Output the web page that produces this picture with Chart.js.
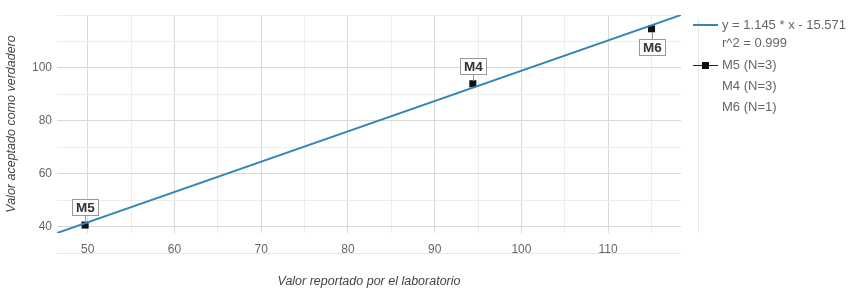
<!DOCTYPE HTML>
<html>
<head>
<script src="https://cdn.jsdelivr.net/npm/chart.js"></script>
<style>
    body { margin: 0; background: #fff; font-family: "Liberation Sans", Arial, sans-serif; }
    #wrap { position: relative; width: 866px; height: 290px; }
    #legend { position: absolute; left: 0; top: 0; font-size: 13px; color: #666; }
    .lg-row { position: absolute; left: 722px; height: 16px; line-height: 16px; white-space: nowrap; }
    .lg-line { position: absolute; left: 693px; width: 25px; height: 2px; }
    .lg-box { position: absolute; width: 7px; height: 7px; background: #111; }
</style>
</head>
<body>
<div id="wrap">
    <canvas id="myChart" width="866" height="290"></canvas>
    <div id="legend"></div>
</div>

<script type="text/javascript">
    // data
    const pointNames = ['M5', 'M4', 'M6'];
    const reportedValues = [49.7, 94.4, 115.0];
    const acceptedValues = [40.6, 94.0, 114.8];
    const labelSide = ['above', 'above', 'below'];
    const fitX = [46.46, 118.4];
    const fitY = [37.6, 120.0];
    const legendTexts = ['y = 1.145 * x - 15.571', 'r^2 = 0.999', 'M5 (N=3)', 'M4 (N=3)', 'M6 (N=1)'];
    const xTitle = 'Valor reportado por el laboratorio';
    const yTitle = 'Valor aceptado como verdadero';

    const legendRowY = [25, 43, 65, 86, 107];

    // html legend
    let legend = document.getElementById('legend');
    for (let i = 0; i < legendTexts.length; i++) {
        let row = document.createElement('div');
        row.className = 'lg-row';
        row.style.top = (legendRowY[i] - 8) + 'px';
        row.textContent = legendTexts[i];
        legend.appendChild(row);
    }
    let fitSwatch = document.createElement('div');
    fitSwatch.className = 'lg-line';
    fitSwatch.style.top = (legendRowY[0] - 1) + 'px';
    fitSwatch.style.background = '#3585b8';
    legend.appendChild(fitSwatch);
    let ptSwatch = document.createElement('div');
    ptSwatch.className = 'lg-line';
    ptSwatch.style.top = (legendRowY[2]) + 'px';
    ptSwatch.style.height = '1px';
    ptSwatch.style.background = '#222';
    legend.appendChild(ptSwatch);
    let ptBox = document.createElement('div');
    ptBox.className = 'lg-box';
    ptBox.style.left = '702px';
    ptBox.style.top = (legendRowY[2] - 3) + 'px';
    legend.appendChild(ptBox);

    const pointLabelPlugin = {
        id: 'pointLabels',
        beforeDatasetsDraw(chart) {
            const ctx = chart.ctx;
            const a = chart.chartArea;
            ctx.save();
            ctx.strokeStyle = '#e6e6e6';
            ctx.lineWidth = 1;
            ctx.beginPath();
            ctx.moveTo(a.left, a.bottom + 20.5);
            ctx.lineTo(a.right, a.bottom + 20.5);
            ctx.moveTo(a.right + 17.5, a.top + 3);
            ctx.lineTo(a.right + 17.5, a.bottom);
            ctx.stroke();
            ctx.restore();
        },
        afterDatasetsDraw(chart) {
            const ctx = chart.ctx;
            const pts = chart.getDatasetMeta(1).data;
            ctx.save();
            ctx.font = 'bold 13.5px "Liberation Sans", Arial, sans-serif';
            ctx.textAlign = 'center';
            ctx.textBaseline = 'middle';
            for (let i = 0; i < pts.length; i++) {
                const px = Math.round(pts[i].x);
                const py = Math.round(pts[i].y);
                const w = 26, h = 16;
                let top = labelSide[i] === 'above' ? py - 10 - h : py + 10;
                ctx.strokeStyle = '#999';
                ctx.lineWidth = 1;
                ctx.beginPath();
                if (labelSide[i] === 'above') {
                    ctx.moveTo(px + 0.5, py - 10);
                    ctx.lineTo(px + 0.5, py - 3);
                } else {
                    ctx.moveTo(px + 0.5, py + 10);
                    ctx.lineTo(px + 0.5, py + 3);
                }
                ctx.stroke();
                ctx.fillStyle = '#fff';
                ctx.fillRect(px - w / 2, top, w, h);
                ctx.strokeRect(px - w / 2 + 0.5, top + 0.5, w, h);
                ctx.fillStyle = '#333';
                ctx.fillText(pointNames[i], px + 0.5, top + h / 2 + 1);
            }
            ctx.restore();
        }
    };

    const fitData = fitX.map((x, i) => ({x: x, y: fitY[i]}));
    const pointData = reportedValues.map((x, i) => ({x: x, y: acceptedValues[i]}));

    const data = {
        datasets: [{
            label: legendTexts[0],
            data: fitData,
            showLine: true,
            borderColor: '#3585b8',
            borderWidth: 2,
            pointRadius: 0,
            fill: false
        }, {
            label: 'Muestras',
            data: pointData,
            showLine: false,
            pointStyle: 'rect',
            pointRadius: 5,
            backgroundColor: '#111',
            borderColor: '#111',
            borderWidth: 0
        }]
    };

    const tickFont = {family: '"Liberation Sans", Arial, sans-serif', size: 12};
    const titleFont = {family: '"Liberation Sans", Arial, sans-serif', size: 12.5, style: 'italic'};

    const config = {
        type: 'scatter',
        data: data,
        options: {
            responsive: false,
            animation: false,
            layout: {padding: {top: 15, right: 185, left: 0, bottom: 0}},
            plugins: {legend: {display: false}, tooltip: {enabled: false}},
            scales: {
                x: {
                    type: 'linear',
                    min: 46.46,
                    max: 118.4,
                    border: {display: false},
                    grid: {
                        drawTicks: false,
                        color: (c) => (c.tick && c.tick.value % 10 === 0) ? '#d9d9d9' : '#ededed'
                    },
                    ticks: {
                        stepSize: 5,
                        includeBounds: false,
                        autoSkip: false,
                        maxRotation: 0,
                        padding: 9,
                        color: '#666',
                        font: tickFont,
                        callback: (v) => v % 10 === 0 ? v : ''
                    },
                    title: {display: true, text: xTitle, color: '#444', font: titleFont, padding: {top: 0, bottom: 1}},
                    afterFit: (s) => { s.height = 57; }
                },
                y: {
                    type: 'linear',
                    min: 37.6,
                    max: 120,
                    border: {display: false},
                    grid: {
                        drawTicks: false,
                        color: (c) => (c.tick && c.tick.value % 20 === 0 && c.tick.value < 120) ? '#d9d9d9' : '#ededed'
                    },
                    ticks: {
                        stepSize: 10,
                        includeBounds: false,
                        autoSkip: false,
                        padding: 5,
                        color: '#666',
                        font: tickFont,
                        callback: (v) => (v % 20 === 0 && v < 120) ? v : ''
                    },
                    title: {display: true, text: yTitle, color: '#444', font: titleFont, padding: {top: 4, bottom: 0}},
                    afterFit: (s) => { s.width = 57; }
                }
            }
        },
        plugins: [pointLabelPlugin]
    };

    const myChart = new Chart(document.getElementById('myChart'), config);
</script>
</body>
</html>
